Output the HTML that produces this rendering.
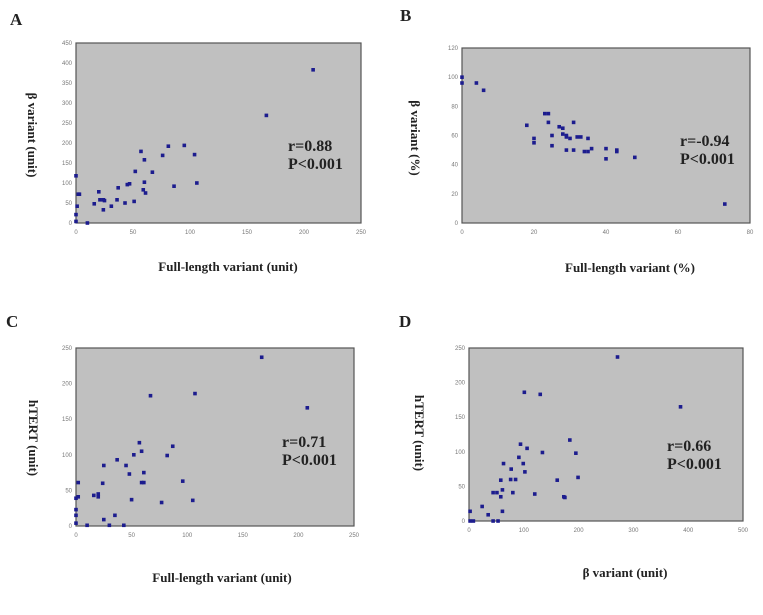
<!DOCTYPE html>
<html><head><meta charset="utf-8">
<style>
body{margin:0;background:#fff;width:763px;height:615px;overflow:hidden}
svg{display:block}
.lbl{font-family:"Liberation Serif",serif;font-weight:bold;fill:#222}
.tick{font-family:"Liberation Sans",sans-serif;font-size:6px;fill:#777}
</style></head>
<body>
<svg id="fig" width="763" height="615" xmlns="http://www.w3.org/2000/svg">
<text class="lbl" x="10" y="25" font-size="17">A</text>
<text class="lbl" x="400" y="21" font-size="17">B</text>
<text class="lbl" x="6" y="327" font-size="17">C</text>
<text class="lbl" x="399" y="327" font-size="17">D</text>
</svg>
<script>
const aX=[0,0,0,1,2,3,10,16,20,21,24,25,24,31,36,37,43,45,47,51,52,57,59,60,60,61,67,76,81,86,95,104,106,167,208];
const aY=[118,21,4,42,72,72,0,48,78,58,58,56,33,42,58,88,50,96,98,54,129,179,83,158,102,75,127,169,192,92,194,171,100,269,383];
const aTicks=[0,50,100,150,200,250];
const aYTicks=[0,50,100,150,200,250,300,350,400,450];
const bX=[0,0,4,6,18,20,20,23,24,24,25,25,27,28,28,29,29,29,30,31,31,32,33,34,35,35,36,40,40,43,43,48,73];
const bY=[100,96,96,91,67,55,58,75,75,69,60,53,66,65,61,60,50,59,58,69,50,59,59,49,49,58,51,51,44,50,49,45,13];
const bTicks=[0,20,40,60,80];
const bYTicks=[0,20,40,60,80,100,120];
const cX=[0,0,0,0,2,2,10,16,20,20,25,24,25,30,35,37,43,45,48,50,52,57,59,59,61,61,67,77,82,87,96,105,107,167,208];
const cY=[39,23,15,4,61,41,1,43,45,41,85,60,9,1,15,93,1,85,73,37,100,117,105,61,61,75,183,33,99,112,63,36,186,237,166];
const cTicks=[0,50,100,150,200,250];
const cYTicks=[0,50,100,150,200,250];
const dX=[2,2,8,24,35,44,44,51,53,58,58,61,61,63,76,77,80,85,91,94,99,101,102,106,120,130,134,161,173,175,184,195,199,271,386];
const dY=[14,0,0,21,9,0,41,41,0,59,35,45,14,83,60,75,41,60,92,111,83,186,71,105,39,183,99,59,35,34,117,98,63,237,165];
const dTicks=[0,100,200,300,400,500];
const dYTicks=[0,50,100,150,200,250];

const NS='http://www.w3.org/2000/svg';
const svg=document.getElementById('fig');
function mk(tag,attrs){const e=document.createElementNS(NS,tag);for(const k in attrs)e.setAttribute(k,attrs[k]);svg.appendChild(e);return e;}
function panel(id,box,xs,ys,xt,yt,xTitle,yTitle,xTitlePos,yTitlePos,ann){
  const [x0,y0,x1,y1]=box;
  const xmax=xt[xt.length-1],ymax=yt[yt.length-1];
  const sx=v=>x0+(x1-x0)*v/xmax, sy=v=>y1-(y1-y0)*v/ymax;
  const r=mk('rect',{x:x0,y:y0,width:x1-x0,height:y1-y0,fill:'#c0c0c0',stroke:'#555','stroke-width':1.2});
  
  
  xt.forEach(t=>{const e=mk('text',{x:sx(t),y:y1+11,'text-anchor':'middle',class:'tick'});e.textContent=t;
    
    });
  yt.forEach(t=>{const e=mk('text',{x:x0-4,y:sy(t)+2,'text-anchor':'end',class:'tick'});e.textContent=t;
    
    });
  xs.forEach((v,i)=>{const c=mk('rect',{x:sx(v)-1.8,y:sy(ys[i])-1.8,width:3.6,height:3.6,fill:'#1c1c8e'});
    
    });
  const xtt=mk('text',{x:xTitlePos[0],y:xTitlePos[1],'text-anchor':'middle',class:'lbl','font-size':13});xtt.textContent=xTitle;
  
  
  const ytt=mk('text',{x:0,y:0,'text-anchor':'middle',class:'lbl','font-size':13,transform:`translate(${yTitlePos[0]},${yTitlePos[1]}) rotate(90)`});ytt.textContent=yTitle;
  
  
  const t1=mk('text',{x:ann[0],y:ann[1],class:'lbl','font-size':16});t1.textContent=ann[2];
  
  
  const t2=mk('text',{x:ann[0],y:ann[1]+18,class:'lbl','font-size':16});t2.textContent='P<0.001';
  
  
}
panel('panel-a',[76,43,361,223],aX,aY,aTicks,aYTicks,'Full-length  variant  (unit)','β variant  (unit)',[228,271],[28,135],[288,151,'r=0.88']);
panel('panel-b',[462,48,750,223],bX,bY,bTicks,bYTicks,'Full-length  variant  (%)','β variant  (%)',[630,272],[411,138],[680,146,'r=-0.94']);
panel('panel-c',[76,348,354,526],cX,cY,cTicks,cYTicks,'Full-length  variant  (unit)','hTERT  (unit)',[222,582],[29,438],[282,447,'r=0.71']);
panel('panel-d',[469,348,743,521],dX,dY,dTicks,dYTicks,'β variant  (unit)','hTERT  (unit)',[625,577],[415,433],[667,451,'r=0.66']);
</script>
</body></html>
